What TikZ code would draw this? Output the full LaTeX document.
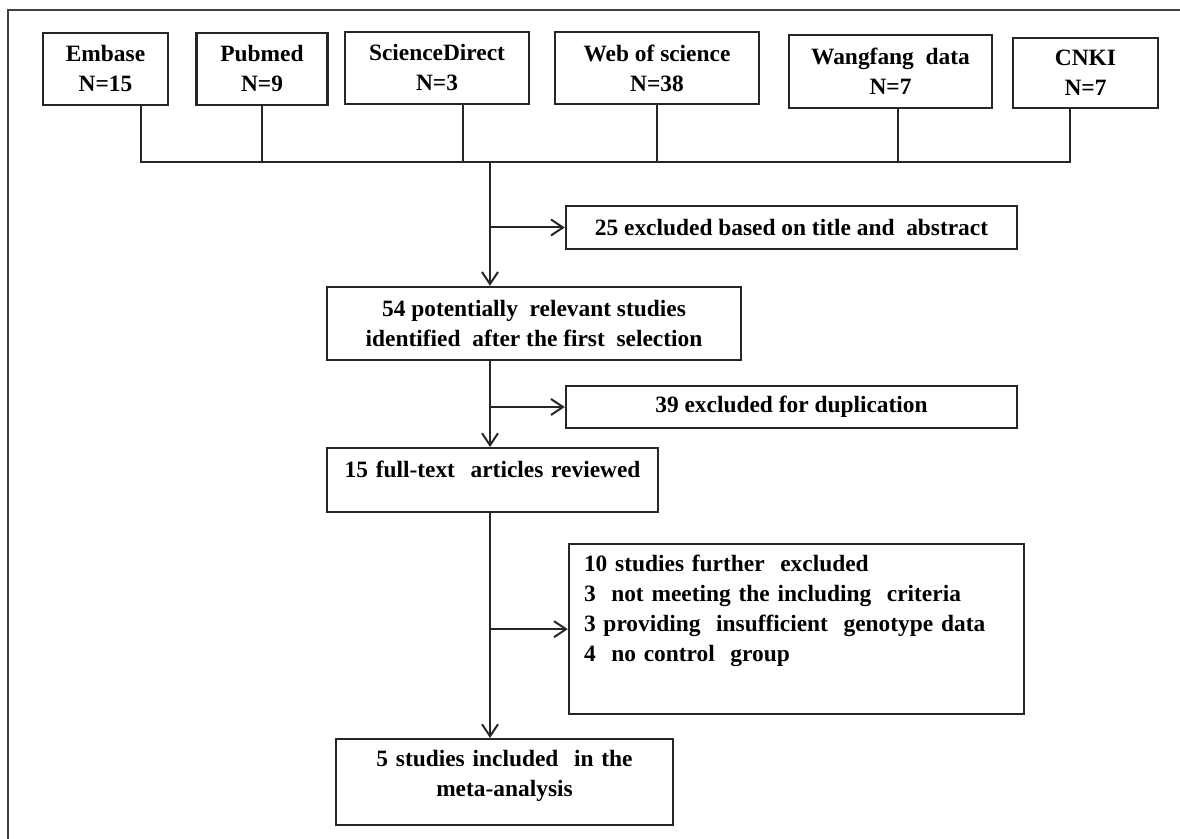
\documentclass[tikz,border=0pt]{standalone}
\usepackage{fontspec}
\setmainfont{Liberation Serif}
\usetikzlibrary{arrows.meta}
\tikzset{>={Straight Barb[length=6pt,width=8pt]}}
\colorlet{penColor}{black!85}
\colorlet{frameColor}{black!75}

\begin{document}
\begin{tikzpicture}[x=0.5pt,y=-0.5pt,
	box/.style={draw=penColor, line width=1.2pt, inner sep=0pt, align=center,
		font=\fontsize{11.7}{15}\selectfont\bfseries},
	link/.style={penColor, line width=1pt},
	arr/.style={link,->}]
	\useasboundingbox (0,0) rectangle (1180,839);
	% outer frame (cut off at right and bottom)
	\draw[frameColor, line width=1pt] (8,880) -- (8,10) -- (1220,10);
	
	% databases
	\node[box, minimum width=62.5pt, minimum height=36pt] (embase) at (105.5,69) {Embase\\N=15};
	\node[box, minimum width=65.5pt, minimum height=36pt] (pubmed) at (262,69) {Pubmed\\N=9};
	\node[box, minimum width=92pt, minimum height=36pt] (sdirect) at (437,68) {ScienceDirect\\N=3};
	\node[box, minimum width=102pt, minimum height=36pt] (wos) at (657,68) {Web of science\\N=38};
	\node[box, minimum width=101.5pt, minimum height=36.5pt] (wangfang) at (890.5,71.5) {Wangfang~ data\\N=7};
	\node[box, minimum width=72.5pt, minimum height=35pt] (cnki) at (1085.5,73) {CNKI\\N=7};
	\coordinate (bar) at (490,162);
	
	\draw[link] ([xshift=17.75pt]embase.south) |- (bar);
	\draw[link] (pubmed.south) |- (bar);
	\draw[link] ([xshift=13pt]sdirect.south) |- (bar);
	\draw[link] (wos.south) |- (bar);
	\draw[link] ([xshift=3.75pt]wangfang.south) |- (bar);
	\draw[link] ([xshift=-7.75pt]cnki.south) |- (bar);
	
	% selection steps
	\node[box, minimum width=225.5pt, minimum height=21.5pt] (excl25) at (791.5,227.5) {25 excluded based on title and~ abstract};
	\node[box, minimum width=207pt, minimum height=36.5pt] (studies54) at (534,323.5) {54 potentially~ relevant studies\\identified~ after the first~ selection};
	\node[box, minimum width=225.5pt, minimum height=21pt] (excl39) at (791.5,407) {39 excluded for duplication};
	\node[box, anchor=north, text width=165.5pt, text height=14.5pt, text depth=17.5pt] (full15) at (492.5,447) {15 full-text~ articles reviewed};
	\node[box, anchor=north, align=left, inner xsep=7.5pt, text width=212.5pt, text height=13.5pt, text depth=71.5pt] (excl10) at (796.5,543)
		{10 studies further~ excluded\\3~ not meeting the including~ criteria\\3 providing~ insufficient~ genotype data\\4~ no control~ group};
	\node[box, anchor=north, text width=168.5pt, text height=13.5pt, text depth=29.5pt] (incl5) at (504.5,738) {5 studies included~ in the\\meta-analysis};
	
	\draw[arr] (bar) -- (bar |- studies54.north);
	\draw[arr] (bar |- excl25.west) -- (excl25.west);
	\draw[arr] (bar |- studies54.south) -- (bar |- full15.north);
	\draw[arr] (bar |- excl39.west) -- (excl39.west);
	\draw[arr] (bar |- full15.south) -- (bar |- incl5.north);
	\draw[arr] (bar |- excl10.west) -- (excl10.west);
\end{tikzpicture}
\end{document}
